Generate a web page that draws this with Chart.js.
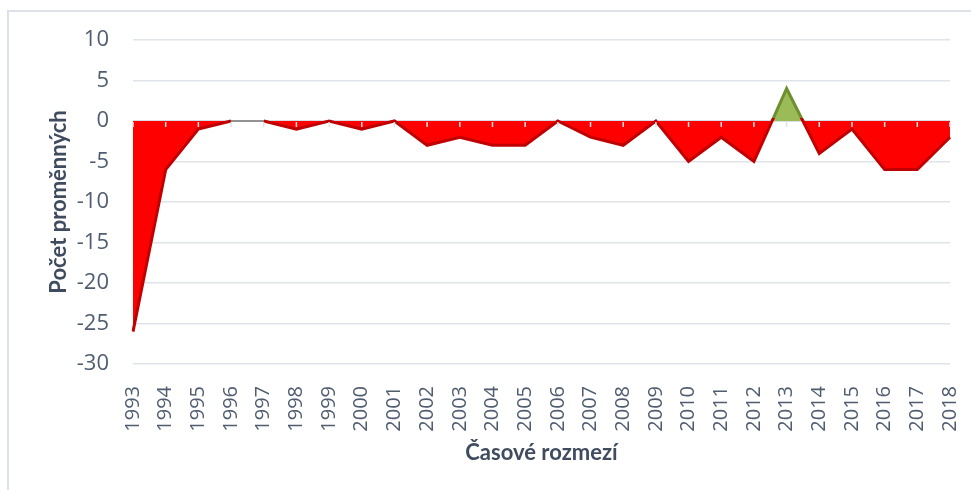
<!DOCTYPE html>
<html>
<head>
<meta charset="utf-8">
<script src="https://cdn.jsdelivr.net/npm/chart.js@4/dist/chart.umd.min.js"></script>
<style>
  html, body { margin: 0; padding: 0; background: #ffffff; }
  #wrap { width: 971px; height: 490px; position: relative; }
</style>
</head>
<body>
<div id="wrap"><canvas id="c" width="971" height="490"></canvas></div>
<script>
const categories = ['1993','1994','1995','1996','1997','1998','1999','2000','2001','2002','2003','2004','2005','2006','2007','2008','2009','2010','2011','2012','2013','2014','2015','2016','2017','2018'];
const values = [-26, -6, -1, 0, 0, -1, 0, -1, 0, -3, -2, -3, -3, 0, -2, -3, 0, -5, -2, -5, 4, -4, -1, -6, -6, -2];
const yTicks = [10, 5, 0, -5, -10, -15, -20, -25, -30];
const xTitle = 'Časové rozmezí';
const yTitle = 'Počet proměnných';

const RED_FILL = '#ff0000', RED_LINE = '#c00000';
const GREEN_FILL = '#9bbb59', GREEN_LINE = '#6e8f2e';
const GRID = '#dfe3ea';
const TICK_COLOR = '#505d70';
const TITLE_COLOR = '#3f4b5e';

const frame = {
  id: 'frame',
  beforeDraw(chart) {
    const ctx = chart.ctx;
    ctx.save();
    ctx.fillStyle = '#ffffff';
    ctx.fillRect(0, 0, chart.width, chart.height);
    ctx.strokeStyle = '#dde2ea';
    ctx.lineWidth = 2;
    ctx.strokeRect(8, 11, 1200, 1200);
    ctx.restore();
  }
};

const zeroAxis = {
  id: 'zeroAxis',
  beforeDatasetsDraw(chart) {
    const ctx = chart.ctx;
    const y0 = chart.scales.y.getPixelForValue(0);
    ctx.save();
    ctx.strokeStyle = '#d5d9e0';
    ctx.lineWidth = 1.5;
    ctx.beginPath();
    ctx.moveTo(chart.chartArea.left, y0);
    ctx.lineTo(chart.chartArea.right, y0);
    ctx.stroke();
    ctx.restore();
  },
  afterDatasetsDraw(chart) {
    const ctx = chart.ctx;
    const x = chart.scales.x, y = chart.scales.y;
    const y0 = y.getPixelForValue(0);
    ctx.save();
    ctx.strokeStyle = '#dfe2e8';
    ctx.lineWidth = 1.5;
    ctx.beginPath();
    for (let i = 0; i < categories.length; i++) {
      const px = x.getPixelForTick(i);
      ctx.moveTo(px, y0 + 1);
      ctx.lineTo(px, y0 + 6);
    }
    ctx.stroke();
    ctx.restore();
  }
};

function lineGradient(context) {
  const chart = context.chart;
  const area = chart.chartArea;
  if (!area) return RED_LINE;
  const y0 = chart.scales.y.getPixelForValue(0) - 2.5;
  const g = chart.ctx.createLinearGradient(0, area.top, 0, area.bottom);
  const s = Math.min(1, Math.max(0, (y0 - area.top) / (area.bottom - area.top)));
  g.addColorStop(0, GREEN_LINE);
  g.addColorStop(s, GREEN_LINE);
  g.addColorStop(s, RED_LINE);
  g.addColorStop(1, RED_LINE);
  return g;
}

new Chart(document.getElementById('c'), {
  type: 'line',
  data: {
    labels: categories,
    datasets: [{
      data: values,
      borderColor: lineGradient,
      borderWidth: 3,
      pointRadius: 0,
      tension: 0,
      fill: { target: 'origin', above: GREEN_FILL, below: RED_FILL },
      segment: {
        borderColor: ctx => (ctx.p0.parsed.y === 0 && ctx.p1.parsed.y === 0) ? '#7a7a7a' : undefined,
        borderWidth: ctx => (ctx.p0.parsed.y === 0 && ctx.p1.parsed.y === 0) ? 1.5 : undefined
      }
    }]
  },
  options: {
    responsive: false,
    animation: false,
    layout: { padding: { left: 42, top: 40, right: 21, bottom: 20 } },
    plugins: { legend: { display: false }, tooltip: { enabled: false } },
    scales: {
      x: {
        offset: false,
        grid: { display: false },
        border: { display: false },
        ticks: {
          minRotation: 90, maxRotation: 90, autoSkip: false,
          padding: 14,
          color: TICK_COLOR,
          font: { family: 'Open Sans', size: 20 }
        },
        title: {
          display: true, text: xTitle, color: TITLE_COLOR,
          font: { family: 'Lato', size: 22, weight: 'bold' },
          padding: { top: 4, bottom: 4 }
        },
        afterFit(scale) { scale.height = 106; scale.paddingRight = 0; scale.paddingLeft = 0; }
      },
      y: {
        min: -30, max: 10,
        grid: { color: GRID, lineWidth: 1.5, drawTicks: false },
        border: { display: false },
        afterBuildTicks(scale) { scale.ticks = yTicks.map(v => ({ value: v })); },
        ticks: {
          padding: 24,
          color: TICK_COLOR,
          font: { family: 'Open Sans', size: 22 }
        },
        title: {
          display: true, text: yTitle, color: TITLE_COLOR,
          font: { family: 'Lato', size: 22, weight: 'bold' },
          padding: { top: 4, bottom: 4 }
        },
        afterFit(scale) { scale.width = 91; }
      }
    }
  },
  plugins: [frame, zeroAxis]
});
</script>
</body>
</html>
